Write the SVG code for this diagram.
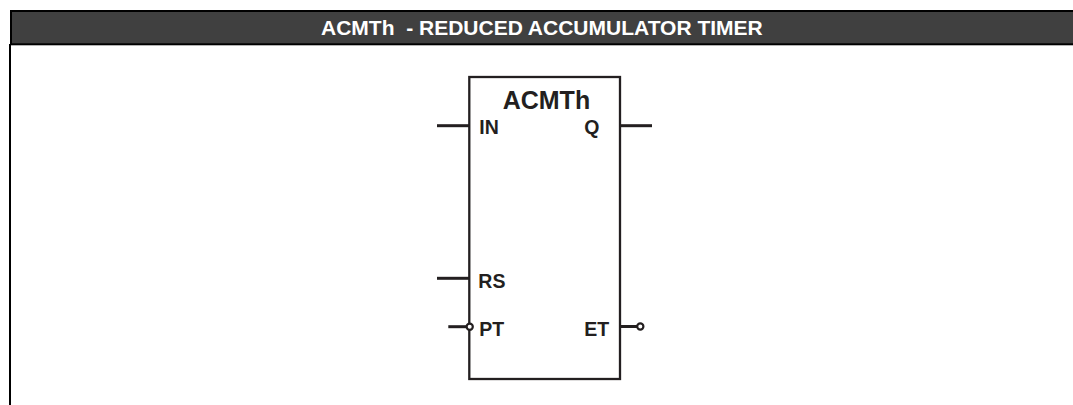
<svg xmlns="http://www.w3.org/2000/svg" width="1073" height="405" viewBox="0 0 1073 405">
<style>
  .title { font-family: "Liberation Sans", Arial, sans-serif; font-weight: bold; font-size: 21px; fill: #ffffff; white-space: pre; }
  .name { font-family: "Liberation Sans", Arial, sans-serif; font-weight: bold; font-size: 25px; fill: #231f20; }
  .lbl { font-family: "Liberation Sans", Arial, sans-serif; font-weight: bold; font-size: 19.5px; fill: #231f20; }
  .wire { stroke: #231f20; stroke-width: 3; fill: none; }
  .box { stroke: #231f20; stroke-width: 2.3; fill: #ffffff; }
  .neg { stroke: #231f20; stroke-width: 2.2; fill: #ffffff; }
</style>
<rect x="0" y="0" width="1073" height="405" fill="#ffffff"/>
<g id="header">
  <rect x="11" y="11" width="1070" height="33.3" fill="#404040" stroke="#000000" stroke-width="2"/>
  <text class="title" x="321" y="35.3" xml:space="preserve">ACMTh  - REDUCED ACCUMULATOR TIMER</text>
  <line x1="10" y1="44" x2="10" y2="405" stroke="#000000" stroke-width="2"/>
</g>
<g id="connectors">
  <line class="wire" x1="437" y1="125.7" x2="469" y2="125.7"/>
  <line class="wire" x1="620" y1="125.7" x2="652" y2="125.7"/>
  <line class="wire" x1="437" y1="278.3" x2="469" y2="278.3"/>
  <line class="wire" x1="448.3" y1="326.7" x2="466.5" y2="326.7"/>
  <line class="wire" x1="620" y1="326.5" x2="637" y2="326.5"/>
</g>
<g id="block-ACMTh">
  <rect class="box" x="469.3" y="77" width="150.7" height="302"/>
  <text class="name" x="502.7" y="109">ACMTh</text>
  <text class="lbl" x="479.3" y="134.3">IN</text>
  <text class="lbl" x="584.3" y="134.3">Q</text>
  <text class="lbl" x="478.3" y="288.3">RS</text>
  <text class="lbl" x="479.3" y="336">PT</text>
  <text class="lbl" x="584.3" y="336">ET</text>
  <circle class="neg" cx="469.7" cy="326.7" r="3.1"/>
  <circle class="neg" cx="640.3" cy="326.5" r="3.1"/>
</g>
</svg>
